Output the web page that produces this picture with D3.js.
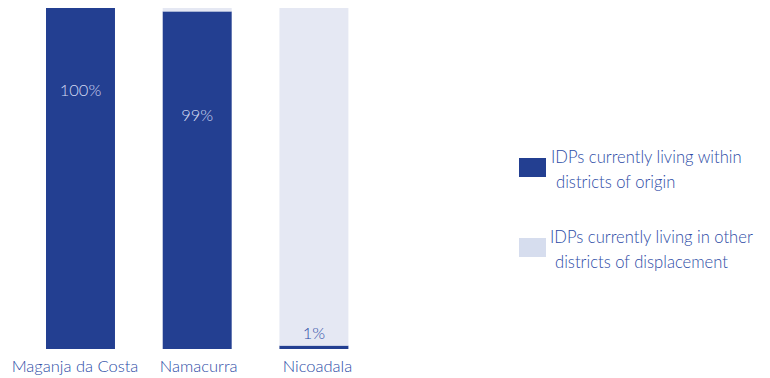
<!DOCTYPE html>
<html>
<head>
<meta charset="utf-8">
<script src="https://cdn.jsdelivr.net/npm/d3@7"></script>
<style>
  html, body { margin: 0; padding: 0; background: #ffffff; }
  svg { display: block; font-family: "Lato", "Open Sans", sans-serif; font-weight: 300; }
</style>
</head>
<body>
<svg id="chart" width="770" height="378"></svg>
<script>
// Districts and share of IDPs (%) by where they currently live
const districts = ["Maganja da Costa", "Namacurra", "Nicoadala"];
const withinOrigin = [100, 99, 1];
const otherDistricts = [0, 1, 99];
const valueLabels = ["100%", "99%", "1%"];
const seriesNames = [
  ["IDPs currently living within", "districts of origin"],
  ["IDPs currently living in other", "districts of displacement"]
];

const colors = { within: "#233f91", other: "#e5e8f3", otherSwatch: "#d6ddee",
                 text: "#2d4ca6", labelLight: "#d3daf2" };

const svg = d3.select("#chart");

const x = d3.scaleBand().domain(districts).range([46, 348.4]).paddingInner(0.409).paddingOuter(0);
const y = d3.scaleLinear().domain([0, 100]).range([349, 8]);

const rows = districts.map((d, i) => ({ d, within: withinOrigin[i], other: otherDistricts[i], label: valueLabels[i] }));
const stacked = d3.stack().keys(["within", "other"])(rows);

svg.append("g").selectAll("g").data(stacked).join("g")
  .attr("fill", s => colors[s.key])
  .selectAll("rect").data(s => s).join("rect")
  .attr("x", p => x(p.data.d))
  .attr("width", x.bandwidth())
  .attr("y", p => y(p[1]))
  .attr("height", p => y(p[0]) - y(p[1]));

// Value labels inside the bars
const labelAt = v => v >= 100 ? 76 : v >= 50 ? 68.6 : v + 3.7;
svg.append("g").selectAll("text").data(rows).join("text")
  .attr("x", r => x(r.d) + x.bandwidth() / 2)
  .attr("y", r => y(labelAt(r.within)))
  .attr("text-anchor", "middle")
  .attr("dominant-baseline", "central")
  .attr("font-size", 16.5)
  .attr("fill", r => r.within >= 50 ? colors.labelLight : colors.text)
  .text(r => r.label);

// Category axis (names sit slightly left of the first bar's centre)
const nudge = [-5.5, 1.5, 3.5];
const xAxis = svg.append("g").attr("transform", "translate(0,349)")
  .call(d3.axisBottom(x).tickSize(0).tickPadding(11));
xAxis.select(".domain").remove();
xAxis.selectAll("text").attr("font-size", 16.5).attr("fill", colors.text)
  .attr("font-family", "Lato, sans-serif").attr("font-weight", 300)
  .attr("dx", (d, i) => nudge[i]);

// Legend
const legend = svg.append("g");
const legendItems = [
  { color: colors.within, lines: seriesNames[0], top: 158, tx: 551, ty: 157 },
  { color: colors.otherSwatch, lines: seriesNames[1], top: 238, tx: 550, ty: 237 }
];
legendItems.forEach(it => {
  legend.append("rect").attr("x", 519).attr("y", it.top).attr("width", 27).attr("height", 19).attr("fill", it.color);
  it.lines.forEach((ln, j) => {
    legend.append("text")
      .attr("x", it.tx + j * 5).attr("y", it.ty + j * 24.5)
      .attr("dominant-baseline", "central")
      .attr("font-size", 16.6).attr("fill", colors.text)
      .text(ln);
  });
});
</script>
</body>
</html>
